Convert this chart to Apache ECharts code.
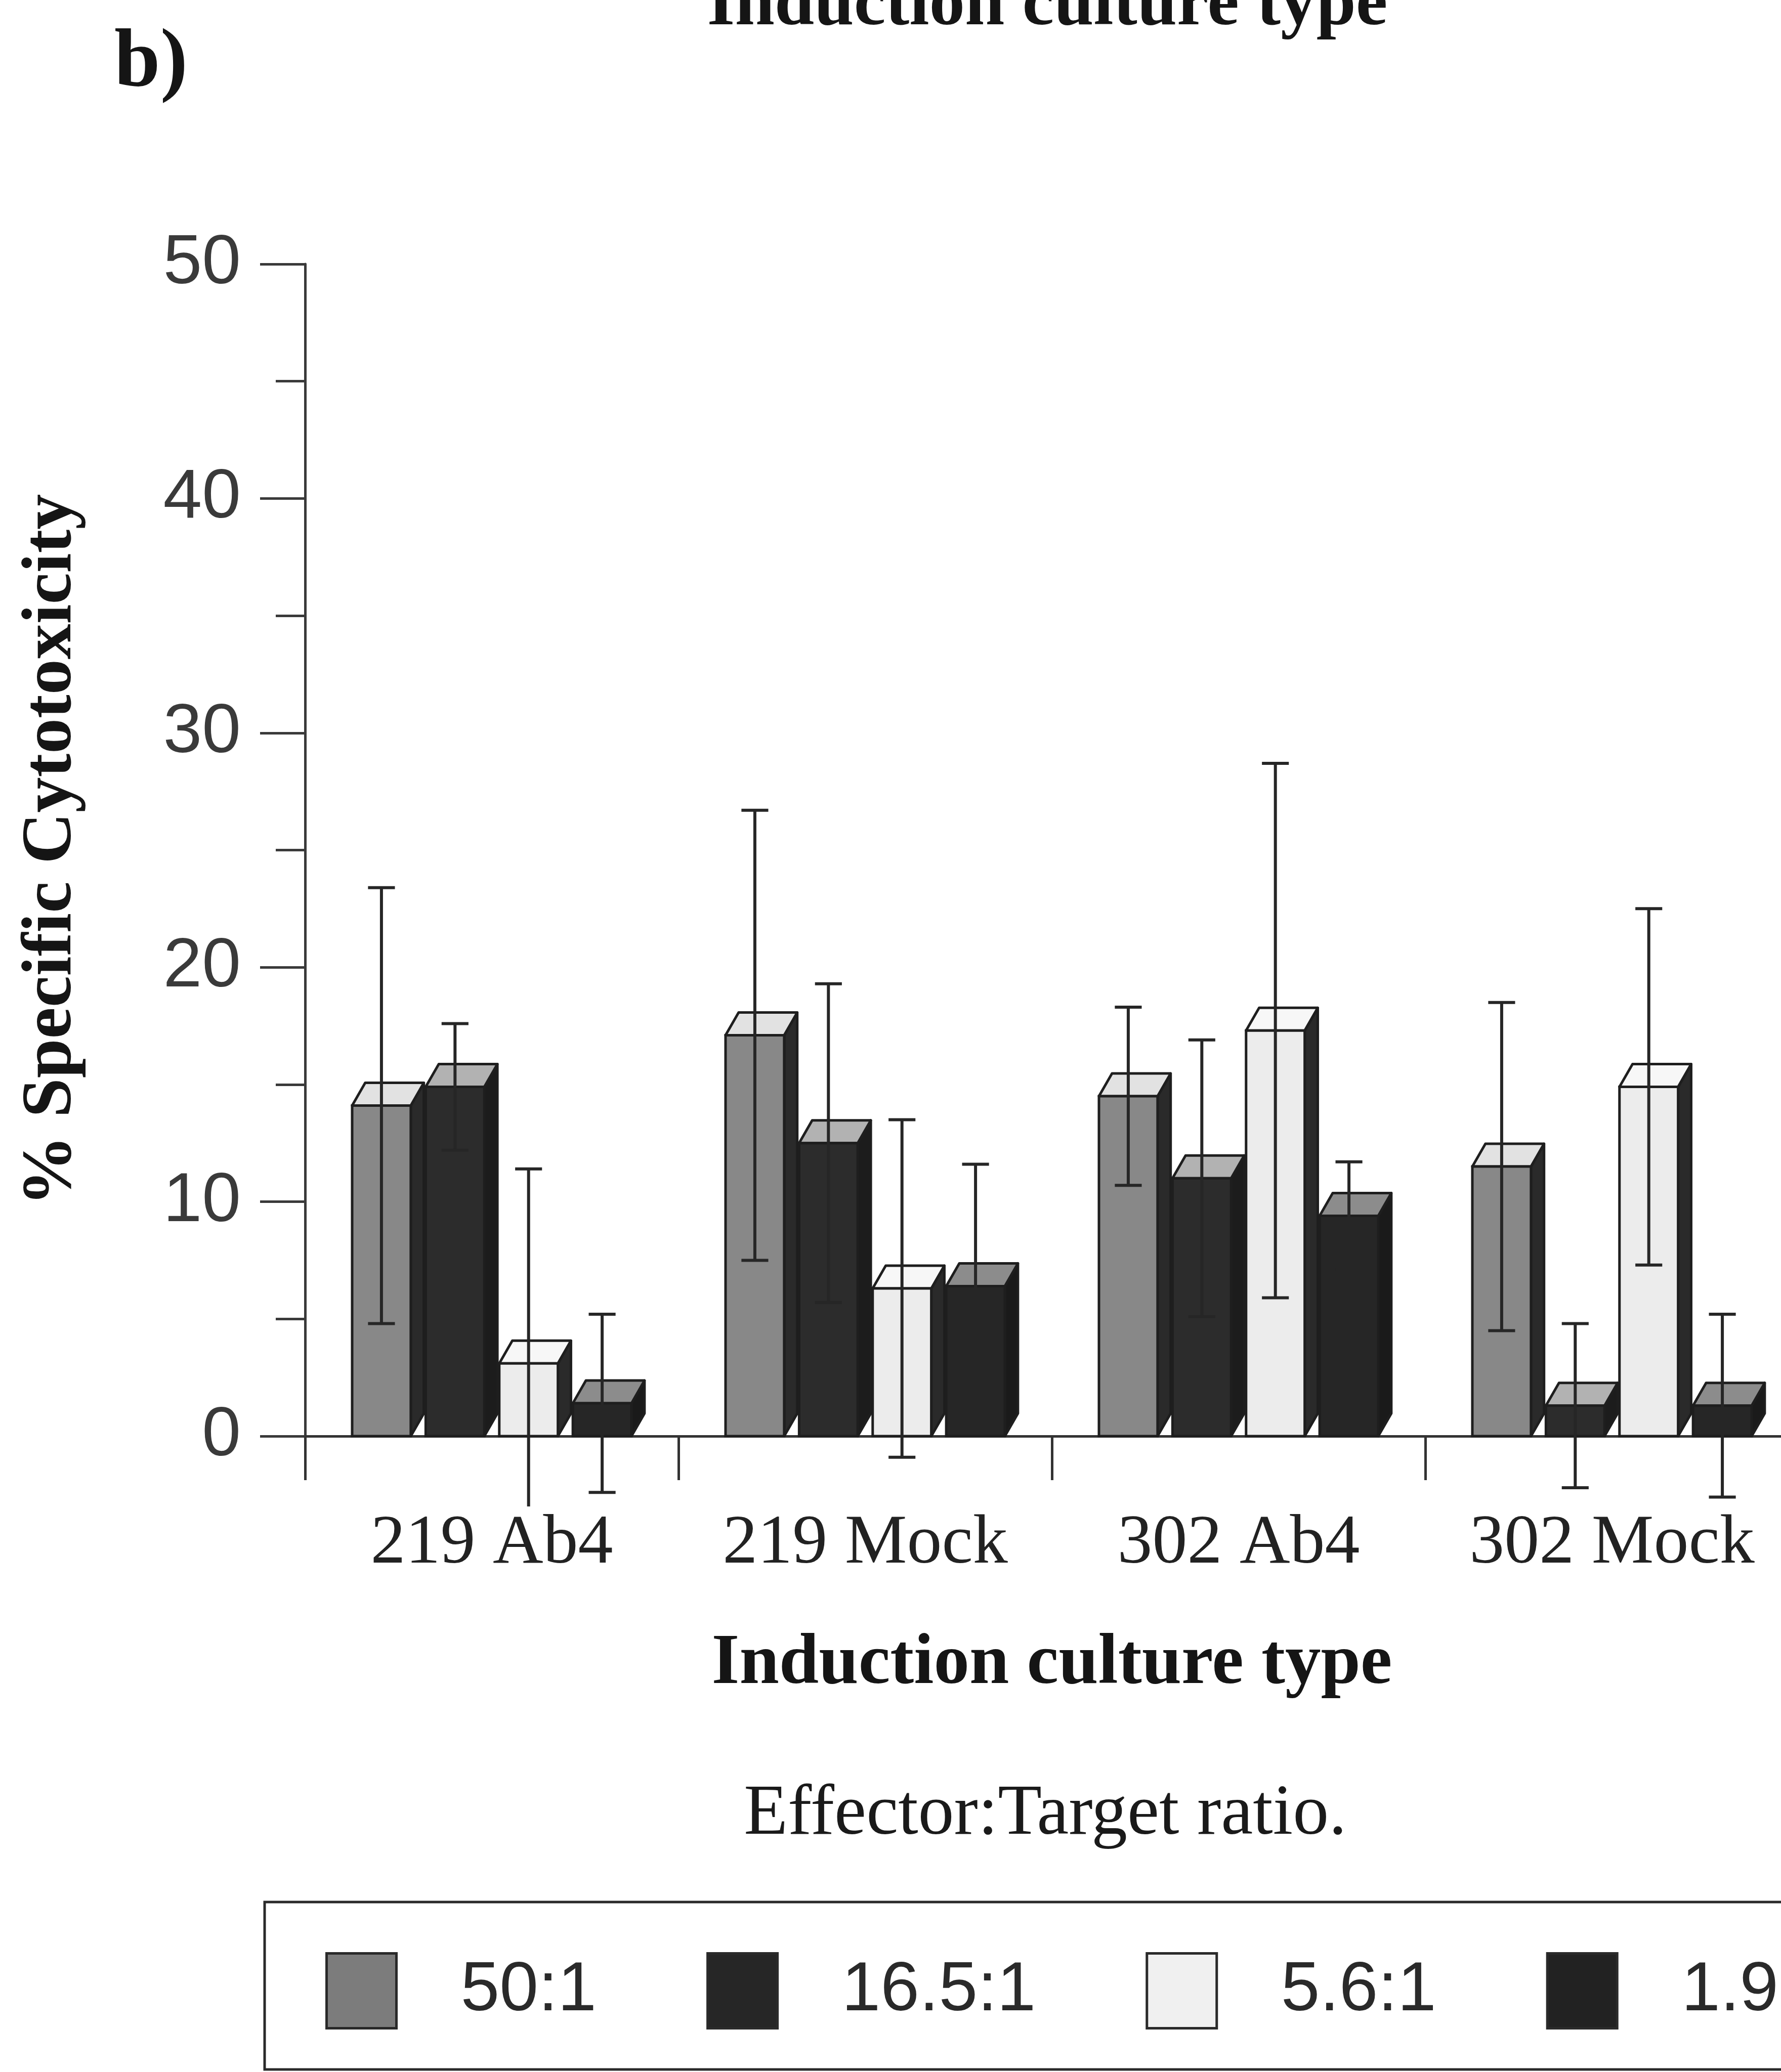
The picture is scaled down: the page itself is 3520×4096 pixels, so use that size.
<!DOCTYPE html>
<html>
<head>
<meta charset="utf-8">
<title>Specific cytotoxicity by induction culture type</title>
<script src="https://cdn.jsdelivr.net/npm/echarts@6/dist/echarts.min.js"></script>
<style>
  html, body { margin: 0; padding: 0; background: #ffffff; overflow: hidden; }
  #chart { width: 3520px; height: 4096px; }
</style>
</head>
<body>
<div id="chart"></div>
<script>
// Induction culture types on the category axis
const categories = ['219 Ab4', '219 Mock', '302 Ab4', '302 Mock'];
// Effector:Target ratios (one series each)
const ratios = ['50:1', '16.5:1', '5.6:1', '1.9:1'];

// Mean % specific cytotoxicity and standard deviation per culture type
const mean50 = [14.1, 17.1, 14.5, 11.5];
const sd50   = [9.3, 9.6, 3.8, 7.0];
const mean16 = [14.9, 12.5, 11.0, 1.3];
const sd16   = [2.7, 6.8, 5.9, 3.5];
const mean5  = [3.1, 6.3, 17.3, 14.9];
const sd5    = [8.3, 7.2, 11.4, 7.6];
const mean1  = [1.4, 6.4, 9.4, 1.3];
const sd1    = [3.8, 5.2, 2.3, 3.9];

// Value axis range and tick step
const yMin = 0, yMax = 50, yStep = 10;
// Error bars are cut off at the floor of the plot
const errorFloor = -3.0;

const means = [mean50, mean16, mean5, mean1];
const sds = [sd50, sd16, sd5, sd1];

// Geometry of each pseudo-3D column, as fractions of one category band
const SLOT = 0.197;    // distance between neighbouring columns
const FRONT = 0.157;   // width of the front face
const DEPTH_X = 0.035; // horizontal depth offset
const DEPTH_Y = 0.061; // vertical depth offset
const CAP = 0.072;     // error bar cap width

const faces = [
  { front: '#888888', top: '#e2e2e2', side: '#2a2a2a' },
  { front: '#2c2c2c', top: '#b2b2b2', side: '#1c1c1c' },
  { front: '#ececec', top: '#f7f7f7', side: '#2a2a2a' },
  { front: '#262626', top: '#8c8c8c', side: '#1a1a1a' }
];
const legendFill = ['#7c7c7c', '#262626', '#f0f0f0', '#222222'];

const OUTLINE = '#1e1e1e';
const SERIF = "'Liberation Serif', 'Times New Roman', serif";
const SANS = "'Liberation Sans', Arial, sans-serif";

function makeRenderer(slot) {
  return function (params, api) {
    const c = api.value(0);
    const v = api.value(1);
    const sd = api.value(2);
    const band = api.size([1, 0])[0];
    const base = api.coord([c, 0]);
    const top = api.coord([c, v]);
    const cx = base[0] + (slot - 1.5) * band * SLOT;
    const w = band * FRONT;
    const xl = cx - w / 2, xr = cx + w / 2;
    const dx = band * DEPTH_X, dy = band * DEPTH_Y;
    const y0 = base[1], yt = top[1];
    const f = faces[slot];

    const children = [
      {
        type: 'polygon',
        shape: { points: [[xr, yt], [xr + dx, yt - dy], [xr + dx, y0 - dy], [xr, y0]] },
        style: { fill: f.side, stroke: OUTLINE, lineWidth: 5, lineJoin: 'round' }
      },
      {
        type: 'polygon',
        shape: { points: [[xl, yt], [xl + dx, yt - dy], [xr + dx, yt - dy], [xr, yt]] },
        style: { fill: f.top, stroke: OUTLINE, lineWidth: 5, lineJoin: 'round' }
      },
      {
        type: 'rect',
        shape: { x: xl, y: yt, width: w, height: y0 - yt },
        style: { fill: f.front, stroke: OUTLINE, lineWidth: 5 }
      }
    ];

    // error bar
    const hiVal = v + sd;
    const loRaw = v - sd;
    const clipped = loRaw < errorFloor;
    const hi = api.coord([c, hiVal])[1];
    const lo = api.coord([c, clipped ? errorFloor : loRaw])[1];
    const half = band * CAP / 2;
    const errStyle = { stroke: '#262626', lineWidth: 6 };
    children.push({ type: 'line', shape: { x1: cx, y1: hi, x2: cx, y2: lo }, style: errStyle });
    children.push({ type: 'line', shape: { x1: cx - half, y1: hi, x2: cx + half, y2: hi }, style: errStyle });
    if (!clipped) {
      children.push({ type: 'line', shape: { x1: cx - half, y1: lo, x2: cx + half, y2: lo }, style: errStyle });
    }
    return { type: 'group', children: children };
  };
}

const series = ratios.map(function (name, i) {
  return {
    name: name,
    type: 'custom',
    clip: false,
    renderItem: makeRenderer(i),
    itemStyle: { color: legendFill[i] },
    encode: { x: 0, y: 1 },
    data: categories.map(function (_, k) { return [k, means[i][k], sds[i][k]]; }),
    z: 3
  };
});

const chart = echarts.init(document.getElementById('chart'), null, { renderer: 'canvas' });

chart.setOption({
  animation: false,
  backgroundColor: '#ffffff',
  grid: {
    left: 603, top: 522, width: 2952, height: 2317,
    containLabel: false,
    outerBoundsMode: 'none'
  },
  xAxis: {
    type: 'category',
    data: categories,
    boundaryGap: true,
    axisLine: { show: true, lineStyle: { color: '#333333', width: 5 } },
    axisTick: { show: true, length: 87, lineStyle: { color: '#333333', width: 5 } },
    axisLabel: { interval: 0, hideOverlap: false, margin: 145, fontFamily: SERIF, fontSize: 138, color: '#222222' },
    splitLine: { show: false },
    name: 'Induction culture type',
    nameLocation: 'middle',
    nameGap: 381,
    nameTextStyle: { fontFamily: SERIF, fontWeight: 'bold', fontSize: 141, color: '#151515' }
  },
  yAxis: {
    type: 'value',
    min: yMin,
    max: yMax,
    interval: yStep,
    axisLine: { show: true, lineStyle: { color: '#3a3a3a', width: 5 } },
    axisTick: { show: true, length: 89, lineStyle: { color: '#3a3a3a', width: 5 } },
    minorTick: { show: true, splitNumber: 2, length: 58, lineStyle: { color: '#3a3a3a', width: 5 } },
    splitLine: { show: false },
    axisLabel: { margin: 127, fontFamily: SANS, fontSize: 138, color: '#3a3a3a' },
    name: '% Specific Cytotoxicity',
    nameLocation: 'middle',
    nameGap: 430,
    nameTextStyle: { fontFamily: SERIF, fontWeight: 'bold', fontSize: 140, color: '#151515' }
  },
  legend: {
    left: 643,
    top: 3859,
    width: 5000,
    orient: 'horizontal',
    padding: 0,
    itemWidth: 138,
    itemHeight: 148,
    itemGap: 217,
    icon: 'rect',
    selectedMode: false,
    textStyle: { fontFamily: SANS, fontSize: 138, color: '#2a2a2a', padding: [0, 0, 0, 122] },
    data: ratios.map(function (name, i) {
      return {
        name: name,
        itemStyle: { color: legendFill[i], borderColor: '#2a2a2a', borderWidth: 5 }
      };
    })
  },
  graphic: [
    {
      type: 'text',
      style: {
        text: 'b)', x: 226, y: 127,
        font: 'bold 163px ' + SERIF,
        fill: '#151515',
        align: 'left', textAlign: 'left',
        verticalAlign: 'middle', textVerticalAlign: 'middle'
      }
    },
    {
      type: 'text',
      style: {
        text: 'Induction culture type', x: 2070, y: 12,
        font: 'bold 141px ' + SERIF,
        fill: '#151515',
        align: 'center', textAlign: 'center',
        verticalAlign: 'middle', textVerticalAlign: 'middle'
      }
    },
    {
      type: 'text',
      style: {
        text: 'Effector:Target ratio.', x: 2066, y: 3588,
        font: '142px ' + SERIF,
        fill: '#1a1a1a',
        align: 'center', textAlign: 'center',
        verticalAlign: 'middle', textVerticalAlign: 'middle'
      }
    },
    {
      type: 'rect',
      shape: { x: 523, y: 3760, width: 3200, height: 331 },
      style: { fill: 'none', stroke: '#2a2a2a', lineWidth: 5 }
    }
  ],
  series: series
});
</script>
</body>
</html>
